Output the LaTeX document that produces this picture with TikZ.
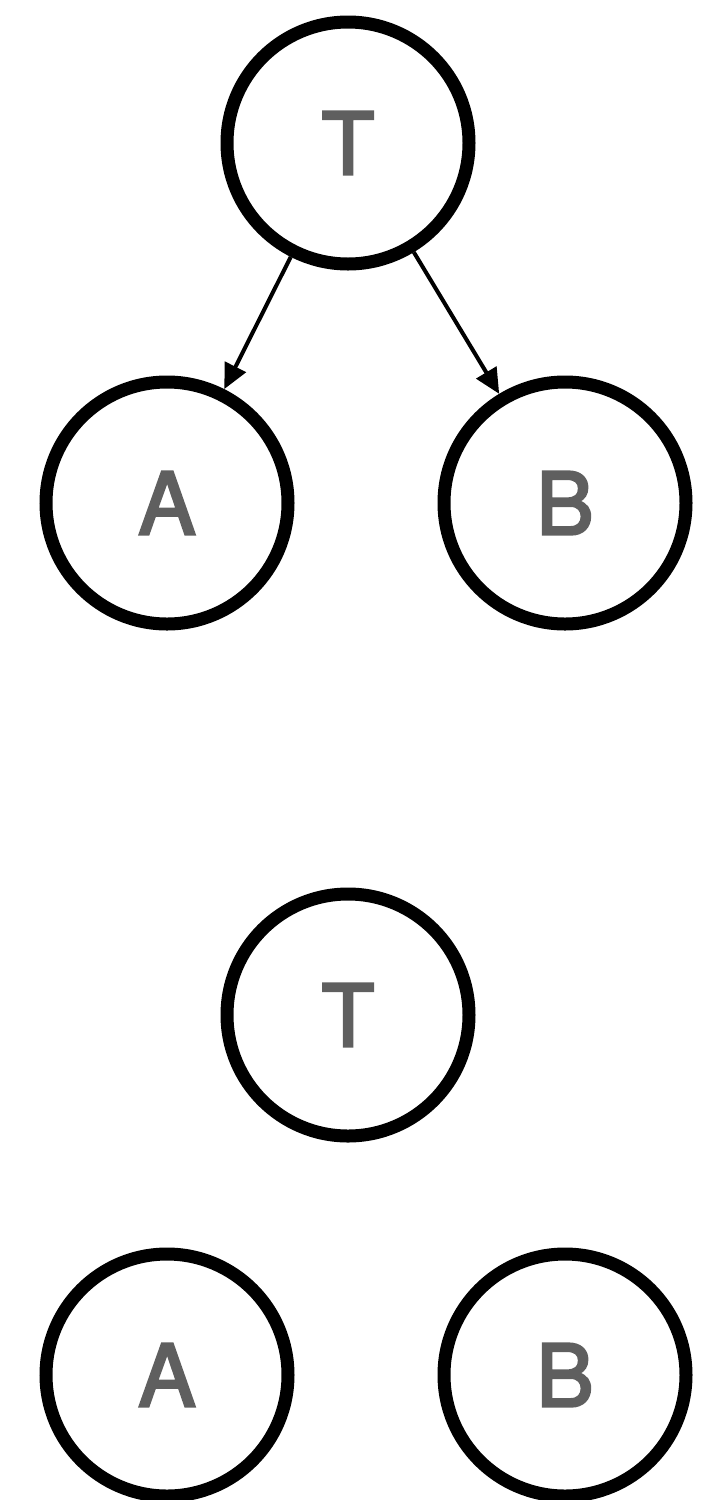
\documentclass[tikz,border=0pt]{standalone}
\usepackage{fontspec}
\setmainfont{TeX Gyre Heros}[FakeBold=3]
\usetikzlibrary{arrows.meta,automata}
\definecolor{lettergray}{HTML}{5F5F5F}

\begin{document}
\begin{tikzpicture}[x=1pt,y=-1pt,->,>={Triangle[length=25pt,width=23pt]},
  line width=4pt]
  \tikzstyle{every state}=[draw=black,line width=13pt,minimum size=242pt,
    inner sep=0pt,text=lettergray,font=\fontsize{86}{100}\selectfont]
  \useasboundingbox (0,0) rectangle (727,1500);

  % linked
  \node[state] (T)  at (348,143)  {T};
  \node[state] (A)  at (167,503)  {A};
  \node[state] (B)  at (565,503)  {B};

  \path (T) edge (A)
        (T) edge (B);

  % unlinked
  \node[state] (T2) at (348,1015) {T};
  \node[state] (A2) at (167,1375) {A};
  \node[state] (B2) at (565,1375) {B};
\end{tikzpicture}
\end{document}
